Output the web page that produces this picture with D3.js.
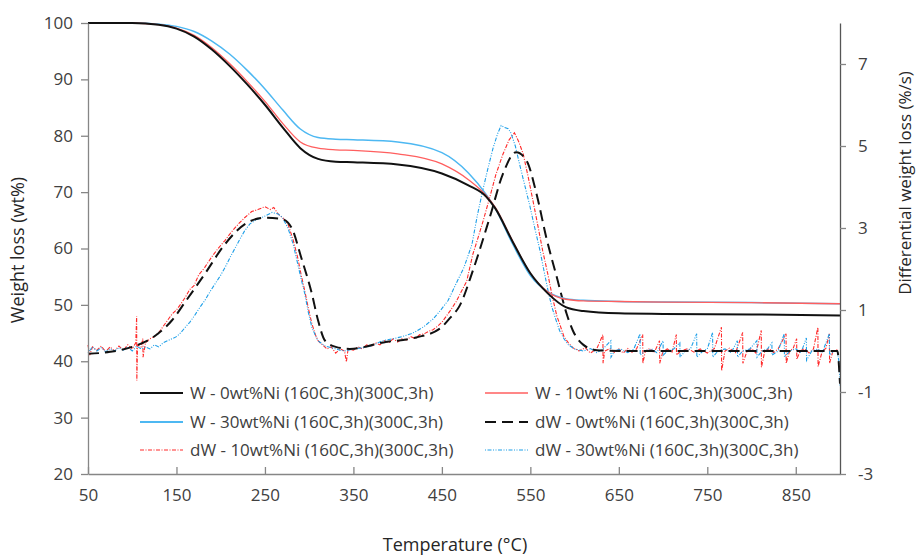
<!DOCTYPE html>
<html>
<head>
<meta charset="utf-8">
<script src="https://cdn.jsdelivr.net/npm/d3@7"></script>
<style>
  body { margin: 0; background: #fff; }
  svg { display: block; font-family: "Open Sans", "Liberation Sans", sans-serif; }
</style>
</head>
<body>
<svg id="chart" width="917" height="555"></svg>
<script>
// ---------- DATA ----------
const xTicks = [50, 150, 250, 350, 450, 550, 650, 750, 850];
const yLeftTicks = [20, 30, 40, 50, 60, 70, 80, 90, 100];
const yRightTicks = [-3, -1, 1, 3, 5, 7];

const legendLabels = [
  "W - 0wt%Ni (160C,3h)(300C,3h)",
  "W - 10wt% Ni (160C,3h)(300C,3h)",
  "W - 30wt%Ni (160C,3h)(300C,3h)",
  "dW - 0wt%Ni (160C,3h)(300C,3h)",
  "dW - 10wt%Ni (160C,3h)(300C,3h)",
  "dW - 30wt%Ni (160C,3h)(300C,3h)"
];

// Weight (wt%), left axis
const wTemps = [50, 100, 130, 150, 170, 190, 210, 230, 250, 270, 290, 310, 330, 350, 400, 450, 480, 500, 510, 530, 550, 570, 590, 610, 650, 700, 800, 900];
const w0  = [100, 100, 99.7, 99.0, 97.6, 95.3, 92.4, 89.1, 85.5, 81.5, 77.8, 75.9, 75.4, 75.3, 74.9, 73.3, 71.2, 69.2, 67.2, 61.2, 55.6, 52.0, 49.6, 48.9, 48.5, 48.4, 48.3, 48.1];
const w10 = [100, 100, 99.7, 99.1, 97.8, 95.6, 92.8, 89.6, 86.1, 82.2, 78.9, 77.8, 77.5, 77.4, 76.8, 75.0, 72.2, 69.4, 67.4, 61.3, 55.6, 52.3, 51.0, 50.7, 50.6, 50.5, 50.4, 50.2];
const w30 = [100, 100, 99.8, 99.4, 98.5, 96.8, 94.5, 91.6, 88.3, 84.6, 81.2, 79.7, 79.4, 79.3, 78.9, 77.0, 73.4, 69.6, 67.2, 60.8, 55.2, 52.3, 51.1, 50.8, 50.6, 50.5, 50.4, 50.2];

// Differential weight loss (%/s), right axis  [temperature, value]
const dw0 = [[50,-0.07],[75,-0.02],[100,0.1],[129,0.42],[145,0.75],[160,1.2],[182,1.88],[205,2.61],[227,3.09],[250,3.25],[269,3.22],[280,3.01],[291,2.28],[303,1.4],[310,0.75],[318,0.25],[330,0.1],[346,0.05],[384,0.21],[421,0.33],[448,0.55],[459,0.8],[470,1.1],[485,1.96],[504,3.25],[519,4.32],[534,4.85],[546,4.63],[557,3.83],[568,2.77],[580,1.79],[591,0.91],[598,0.5],[610,0.15],[625,0.02],[650,0.0],[700,0.0],[800,0.0],[897,0.0],[900,-0.8]];

const dw10 = [[50,0.15],[52,-0.1],[55,0.1],[60,0.02],[65,0.12],[70,-0.02],[75,0.1],[80,0.0],[85,0.12],[90,0.02],[95,0.15],[100,0.05],[104,0.2],[105,0.85],[105.2,-0.72],[106,0.15],[110,0.1],[112,0.3],[112.2,-0.15],[115,0.2],[120,0.3],[125,0.35],[130,0.45],[135,0.6],[140,0.75],[145,0.9],[150,1.0],[155,1.15],[160,1.31],[165,1.5],[170,1.6],[175,1.85],[182,2.04],[190,2.3],[197,2.5],[205,2.7],[212,2.9],[220,3.1],[227,3.25],[235,3.4],[242,3.45],[250,3.52],[256,3.45],[260,3.5],[265,3.34],[270,3.25],[276,3.1],[282,2.7],[287,2.28],[291,1.85],[295,1.47],[299,1.05],[303,0.67],[307,0.4],[310,0.25],[315,0.15],[320,0.05],[325,0.1],[330,-0.05],[335,0.05],[340,0.0],[342,-0.27],[344,0.05],[350,0.02],[355,0.1],[360,0.05],[365,0.15],[370,0.1],[375,0.2],[380,0.15],[385,0.25],[390,0.2],[395,0.3],[400,0.22],[405,0.3],[410,0.27],[415,0.35],[420,0.3],[425,0.4],[430,0.42],[435,0.48],[440,0.52],[445,0.6],[450,0.7],[455,0.85],[460,1.0],[466,1.2],[472,1.45],[478,1.7],[485,2.36],[490,2.7],[497,3.2],[504,3.74],[511,4.3],[519,4.8],[526,5.15],[532,5.32],[537,5.1],[542,4.8],[548,4.2],[553,3.66],[559,3.0],[564,2.44],[570,1.85],[575,1.31],[580,0.85],[583,0.67],[588,0.35],[593,0.2],[598,0.08],[605,0.0],[612,0.08],[618,-0.05],[625,0.05],[632,0.4],[632.2,-0.3],[634,0.0],[640,0.06],[645,-0.04],[650,0.05],[655,-0.05],[660,0.06],[665,-0.03],[670,0.05],[677,0.4],[677.2,-0.3],[680,0.0],[685,0.06],[690,-0.04],[696,0.25],[696.2,-0.3],[700,0.0],[705,0.05],[710,-0.04],[715,0.4],[715.2,-0.1],[720,0.0],[728,0.06],[735,-0.03],[742,0.05],[750,-0.05],[758,0.06],[766,0.58],[766.2,-0.48],[770,0.0],[775,0.07],[782,-0.04],[790,0.45],[790.2,-0.3],[795,0.0],[800,0.06],[805,-0.05],[811,0.5],[811.2,-0.4],[815,0.0],[820,0.06],[825,-0.04],[830,0.05],[839,0.42],[839.2,-0.3],[843,0.0],[847,0.06],[851,0.3],[851.2,-0.2],[855,0.0],[860,0.06],[865,-0.05],[870,0.05],[875,0.58],[875.2,-0.38],[880,0.0],[884,0.06],[888,0.42],[888.2,-0.3],[892,0.0],[897,0.03]];

const dw30 = [[50,-0.05],[55,0.1],[60,0.0],[65,0.08],[70,-0.02],[75,0.06],[80,0.0],[85,0.08],[90,0.02],[95,0.1],[100,0.0],[105,0.12],[110,0.05],[115,0.1],[120,0.05],[125,0.15],[130,0.1],[135,0.2],[140,0.25],[145,0.3],[150,0.35],[155,0.45],[160,0.58],[165,0.7],[170,0.85],[176,1.05],[182,1.23],[188,1.45],[194,1.65],[200,1.85],[205,2.04],[211,2.3],[216,2.5],[221,2.7],[227,2.93],[233,3.1],[240,3.2],[250,3.29],[258,3.38],[265,3.34],[270,3.25],[276,3.0],[282,2.6],[287,2.13],[291,1.75],[295,1.4],[299,0.95],[303,0.58],[307,0.38],[310,0.25],[318,0.12],[327,0.07],[335,0.02],[340,0.0],[350,0.05],[360,0.08],[370,0.12],[383,0.25],[395,0.3],[405,0.35],[415,0.42],[421,0.48],[430,0.6],[440,0.78],[448,0.98],[457,1.23],[466,1.64],[475,2.04],[484,2.6],[490,3.3],[496,3.9],[502,4.45],[508,4.96],[513,5.3],[517,5.5],[521,5.45],[525,5.42],[528,5.32],[533,5.0],[537,4.63],[543,4.1],[549,3.58],[555,3.0],[561,2.44],[565,2.0],[570,1.47],[574,1.1],[578,0.82],[583,0.5],[588,0.3],[593,0.15],[600,0.05],[610,0.0],[618,0.06],[625,-0.04],[632,0.05],[641,0.25],[641.2,-0.15],[645,0.0],[652,0.05],[660,-0.04],[667,0.05],[674,0.42],[674.2,-0.1],[680,0.0],[687,0.05],[693,-0.04],[700,0.25],[700.2,-0.1],[705,0.0],[712,0.05],[719,0.2],[719.2,-0.15],[725,0.0],[731,0.05],[738,0.42],[738.2,-0.15],[745,0.0],[750,0.05],[756,0.45],[756.2,-0.15],[762,0.0],[770,0.05],[777,-0.04],[784,0.25],[784.2,-0.15],[790,0.0],[798,0.05],[806,0.25],[806.2,-0.15],[812,0.0],[818,0.05],[823,0.2],[823.2,-0.1],[830,0.0],[837,0.42],[837.2,-0.15],[843,0.0],[850,0.05],[856,-0.04],[862,0.32],[862.2,-0.23],[868,0.0],[875,0.05],[880,-0.04],[888,0.42],[888.2,-0.1],[893,0.0],[897,0.0],[899,-0.3],[900,-0.85]];

// ---------- CHART ----------
const svg = d3.select("#chart");
const mLeft = 88, mRight = 840, mTop = 23, mBottom = 474;

const x = d3.scaleLinear().domain([50, 900]).range([mLeft, mRight]);
const yL = d3.scaleLinear().domain([20, 100]).range([mBottom, mTop]);
const yR = d3.scaleLinear().domain([-3, 8]).range([mBottom, mTop]);

const axisColor = "#868686";
const textColor = "#404040";
const titleColor = "#262626";
const plainFmt = d => String(d);

// dW lines
const dLine = d3.line().x(d => x(d[0])).y(d => yR(d[1]));
const dSeries = [
  { data: dw10, color: "#ff2a2a", width: 1.1, dash: "4,1.5,1,1.5" },
  { data: dw30, color: "#1e9fe8", width: 1.1, dash: "1,1.5,4,1.5,1,1.5" },
  { data: dw0,  color: "#111", width: 2, dash: "11,6", curve: true }
];
dSeries.forEach(s => {
  svg.append("path")
    .attr("d", (s.curve ? dLine.curve(d3.curveMonotoneX) : dLine.curve(d3.curveLinear))(s.data))
    .attr("fill", "none")
    .attr("stroke", s.color)
    .attr("stroke-width", s.width)
    .attr("stroke-dasharray", s.dash);
});

// W lines
const wLine = d3.line().x((d, i) => x(wTemps[i])).y(d => yL(d)).curve(d3.curveMonotoneX);
const wSeries = [
  { data: w30, color: "#4db8f2", width: 1.5 },
  { data: w10, color: "#ff5f5f", width: 1.3 },
  { data: w0,  color: "#111", width: 2 }
];
wSeries.forEach(s => {
  svg.append("path")
    .attr("d", wLine(s.data))
    .attr("fill", "none")
    .attr("stroke", s.color)
    .attr("stroke-width", s.width);
});

// Axes
function styleAxis(g) {
  g.selectAll(".domain").attr("stroke", axisColor).attr("stroke-width", 1.3);
  g.selectAll(".tick line").attr("stroke", axisColor).attr("stroke-width", 1.3);
  g.selectAll(".tick text").attr("fill", textColor).style("font-size", "17px")
    .style("font-family", '"Open Sans", "Liberation Sans", sans-serif');
}

const gx = svg.append("g").attr("transform", `translate(0,${mBottom})`)
  .call(d3.axisBottom(x).tickValues(xTicks).tickSize(-7).tickSizeOuter(0).tickPadding(15).tickFormat(plainFmt));
styleAxis(gx);

const gyl = svg.append("g").attr("transform", `translate(${mLeft},0)`)
  .call(d3.axisLeft(yL).tickValues(yLeftTicks).tickSize(7).tickSizeOuter(0).tickPadding(8).tickFormat(plainFmt));
styleAxis(gyl);

const gyr = svg.append("g").attr("transform", `translate(${mRight},0)`)
  .call(d3.axisRight(yR).tickValues(yRightTicks).tickSize(6).tickSizeOuter(0).tickPadding(12).tickFormat(plainFmt));
styleAxis(gyr);
gyr.select(".domain").attr("stroke", "#555");

// Axis titles
svg.append("text")
  .attr("transform", `translate(24,250) rotate(-90)`)
  .attr("text-anchor", "middle")
  .attr("fill", titleColor)
  .style("font-size", "18px")
  .text("Weight loss (wt%)");

svg.append("text")
  .attr("transform", `translate(911,183) rotate(-90)`)
  .attr("text-anchor", "middle")
  .attr("fill", titleColor)
  .style("font-size", "17px")
  .text("Differential weight loss (%/s)");

svg.append("text")
  .attr("x", 455).attr("y", 551)
  .attr("text-anchor", "middle")
  .attr("fill", titleColor)
  .style("font-size", "18px")
  .text("Temperature (°C)");

// Legend
const legendItems = [
  { label: legendLabels[0], color: "#111", width: 2, dash: null, col: 0, row: 0 },
  { label: legendLabels[1], color: "#ff5f5f", width: 1.3, dash: null, col: 1, row: 0 },
  { label: legendLabels[2], color: "#4db8f2", width: 2, dash: null, col: 0, row: 1 },
  { label: legendLabels[3], color: "#111", width: 2, dash: "11,6", col: 1, row: 1 },
  { label: legendLabels[4], color: "#ff2a2a", width: 1.1, dash: "4,1.5,1,1.5", col: 0, row: 2 },
  { label: legendLabels[5], color: "#1e9fe8", width: 1.1, dash: "1,1.5,4,1.5,1,1.5", col: 1, row: 2 }
];
const colX = [140, 485];
const rowY = [393, 422, 450];
const leg = svg.append("g");
legendItems.forEach(it => {
  const lx = colX[it.col], ly = rowY[it.row];
  leg.append("line")
    .attr("x1", lx).attr("x2", lx + 43).attr("y1", ly).attr("y2", ly)
    .attr("stroke", it.color).attr("stroke-width", it.width)
    .attr("stroke-dasharray", it.dash);
  leg.append("text")
    .attr("x", lx + 50).attr("y", ly + 6)
    .attr("fill", textColor)
    .style("font-size", "17px")
    .text(it.label);
});
</script>
</body>
</html>
